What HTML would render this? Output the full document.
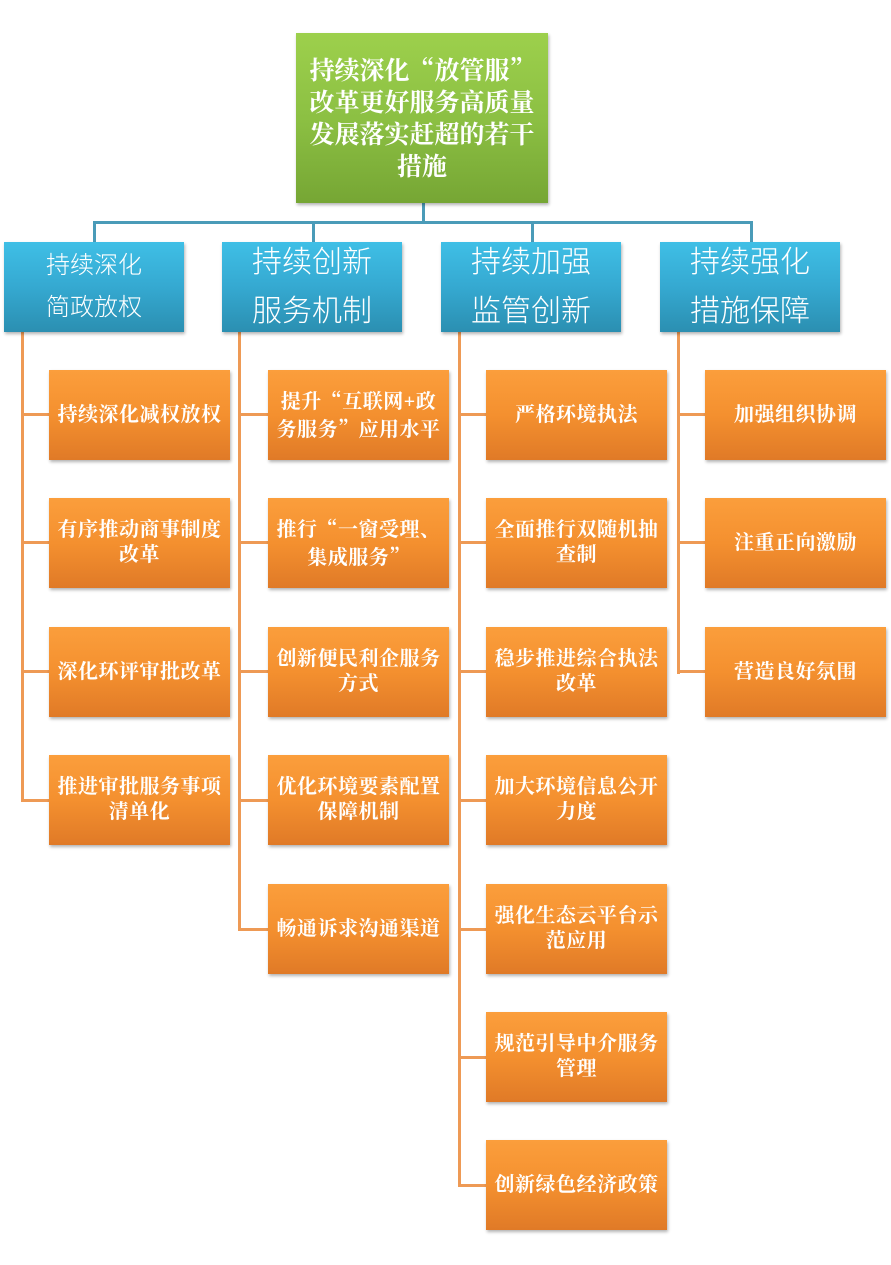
<!DOCTYPE html>
<html>
<head>
<meta charset="utf-8">
<style>
  html,body{margin:0;padding:0;background:#fff;}
  body{width:891px;height:1265px;position:relative;overflow:hidden;}
  .abs{position:absolute;}
  .q{font-family:"Noto Serif CJK SC",serif;}
  .top{left:296px;top:33px;width:252px;height:170px;
    background:linear-gradient(to bottom,#9dd04c 0%,#8cc043 50%,#76a634 100%);
    box-shadow:1px 2px 3px rgba(0,0,0,0.3);
    color:#fff;font-family:"Liberation Serif","Noto Serif CJK SC",serif;font-weight:700;
    font-size:25px;line-height:32px;text-align:center;
    display:flex;align-items:center;justify-content:center;}
  .blue{top:242px;width:180px;height:90px;
    background:linear-gradient(to bottom,#3fbfe6 0%,#35a9d1 50%,#2b8fb1 100%);
    box-shadow:1px 2px 3px rgba(0,0,0,0.3);
    color:#fff;font-family:"Liberation Sans","Noto Sans CJK SC",sans-serif;font-weight:300;
    text-align:center;display:flex;align-items:center;justify-content:center;}
  .b1{font-size:24px;line-height:42px;}
  .b2{font-size:30px;line-height:49px;}
  .or{width:181px;height:90px;
    background:linear-gradient(to bottom,#fb9e3c 0%,#f4902f 50%,#e07a27 100%);
    box-shadow:1px 2px 3px rgba(0,0,0,0.3);
    color:#fff;font-family:"Liberation Serif","Noto Serif CJK SC",serif;font-weight:700;
    font-size:20px;line-height:25px;text-align:center;
    display:flex;align-items:center;justify-content:center;letter-spacing:0.5px;}
  .tl{background:#4a9bb8;}
  .ol{background:#ee9a55;}
</style>
</head>
<body>
<!-- teal connectors -->
<div class="abs tl" style="left:422px;top:203px;width:3px;height:20px;"></div>
<div class="abs tl" style="left:93px;top:221px;width:660px;height:3px;"></div>
<div class="abs tl" style="left:93px;top:221px;width:3px;height:21px;"></div>
<div class="abs tl" style="left:312px;top:221px;width:3px;height:21px;"></div>
<div class="abs tl" style="left:531px;top:221px;width:3px;height:21px;"></div>
<div class="abs tl" style="left:750px;top:221px;width:3px;height:21px;"></div>

<!-- orange vertical connectors -->
<div class="abs ol" style="left:21px;top:332px;width:3px;height:470px;"></div>
<div class="abs ol" style="left:238px;top:332px;width:3px;height:599px;"></div>
<div class="abs ol" style="left:458px;top:332px;width:3px;height:855px;"></div>
<div class="abs ol" style="left:677px;top:332px;width:3px;height:342px;"></div>

<!-- orange horizontal branches col1 -->
<div class="abs ol" style="left:21px;top:413px;width:28px;height:3px;"></div>
<div class="abs ol" style="left:21px;top:541px;width:28px;height:3px;"></div>
<div class="abs ol" style="left:21px;top:670px;width:28px;height:3px;"></div>
<div class="abs ol" style="left:21px;top:799px;width:28px;height:3px;"></div>
<!-- col2 -->
<div class="abs ol" style="left:238px;top:413px;width:30px;height:3px;"></div>
<div class="abs ol" style="left:238px;top:541px;width:30px;height:3px;"></div>
<div class="abs ol" style="left:238px;top:670px;width:30px;height:3px;"></div>
<div class="abs ol" style="left:238px;top:799px;width:30px;height:3px;"></div>
<div class="abs ol" style="left:238px;top:928px;width:30px;height:3px;"></div>
<!-- col3 -->
<div class="abs ol" style="left:458px;top:413px;width:28px;height:3px;"></div>
<div class="abs ol" style="left:458px;top:541px;width:28px;height:3px;"></div>
<div class="abs ol" style="left:458px;top:670px;width:28px;height:3px;"></div>
<div class="abs ol" style="left:458px;top:799px;width:28px;height:3px;"></div>
<div class="abs ol" style="left:458px;top:928px;width:28px;height:3px;"></div>
<div class="abs ol" style="left:458px;top:1056px;width:28px;height:3px;"></div>
<div class="abs ol" style="left:458px;top:1184px;width:28px;height:3px;"></div>
<!-- col4 -->
<div class="abs ol" style="left:677px;top:413px;width:28px;height:3px;"></div>
<div class="abs ol" style="left:677px;top:541px;width:28px;height:3px;"></div>
<div class="abs ol" style="left:677px;top:670px;width:28px;height:3px;"></div>

<!-- top box -->
<div class="abs top"><div>持续深化<span class="q">“</span>放管服<span class="q">”</span><br>改革更好服务高质量<br>发展落实赶超的若干<br>措施</div></div>

<!-- blue boxes -->
<div class="abs blue b1" style="left:4px;"><div>持续深化<br>简政放权</div></div>
<div class="abs blue b2" style="left:222px;"><div>持续创新<br>服务机制</div></div>
<div class="abs blue b2" style="left:441px;"><div>持续加强<br>监管创新</div></div>
<div class="abs blue b2" style="left:660px;"><div>持续强化<br>措施保障</div></div>

<!-- col1 -->
<div class="abs or" style="left:49px;top:370px;"><div>持续深化减权放权</div></div>
<div class="abs or" style="left:49px;top:498px;"><div>有序推动商事制度<br>改革</div></div>
<div class="abs or" style="left:49px;top:627px;"><div>深化环评审批改革</div></div>
<div class="abs or" style="left:49px;top:755px;"><div>推进审批服务事项<br>清单化</div></div>

<!-- col2 -->
<div class="abs or" style="left:268px;top:370px;"><div>提升<span class="q">“</span>互联网+政<br>务服务<span class="q">”</span>应用水平</div></div>
<div class="abs or" style="left:268px;top:498px;"><div>推行<span class="q">“</span>一窗受理、<br>集成服务<span class="q">”</span></div></div>
<div class="abs or" style="left:268px;top:627px;"><div>创新便民利企服务<br>方式</div></div>
<div class="abs or" style="left:268px;top:755px;"><div>优化环境要素配置<br>保障机制</div></div>
<div class="abs or" style="left:268px;top:884px;"><div>畅通诉求沟通渠道</div></div>

<!-- col3 -->
<div class="abs or" style="left:486px;top:370px;"><div>严格环境执法</div></div>
<div class="abs or" style="left:486px;top:498px;"><div>全面推行双随机抽<br>查制</div></div>
<div class="abs or" style="left:486px;top:627px;"><div>稳步推进综合执法<br>改革</div></div>
<div class="abs or" style="left:486px;top:755px;"><div>加大环境信息公开<br>力度</div></div>
<div class="abs or" style="left:486px;top:884px;"><div>强化生态云平台示<br>范应用</div></div>
<div class="abs or" style="left:486px;top:1012px;"><div>规范引导中介服务<br>管理</div></div>
<div class="abs or" style="left:486px;top:1140px;"><div>创新绿色经济政策</div></div>

<!-- col4 -->
<div class="abs or" style="left:705px;top:370px;"><div>加强组织协调</div></div>
<div class="abs or" style="left:705px;top:498px;"><div>注重正向激励</div></div>
<div class="abs or" style="left:705px;top:627px;"><div>营造良好氛围</div></div>
</body>
</html>
